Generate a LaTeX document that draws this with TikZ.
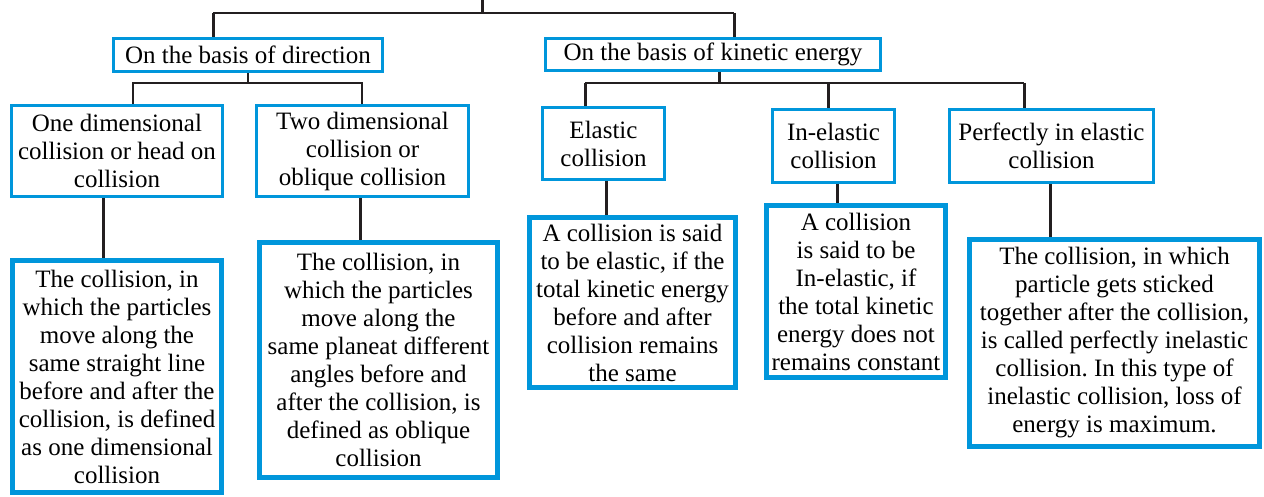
\documentclass[tikz,border=0pt]{standalone}
\usepackage{fontspec}
\setmainfont{Liberation Serif}
\definecolor{boxblue}{RGB}{0,150,219}
\definecolor{linedark}{RGB}{35,31,32}

\begin{document}
\begin{tikzpicture}[x=0.5pt,y=-0.5pt,
  box/.style={draw=boxblue, line width=1.3pt, align=center, inner sep=0pt,
    font=\fontsize{12.5}{14}\selectfont},
  descbox/.style={box, line width=2.5pt},
  conn/.style={draw=linedark, line width=1.5pt},
  thinconn/.style={draw=linedark, line width=1pt}]
  \useasboundingbox (0,0) rectangle (1264,497);

  % headings
  \node[box, minimum width=134.7pt, minimum height=16.7pt] (dir) at (248,55) {On the basis of direction};
  \node[box, minimum width=167.7pt, minimum height=16.2pt] (kin) at (713,54.5) {On the basis of kinetic energy};

  % kinds of collision
  \node[box, minimum width=105.7pt, minimum height=45.7pt] (one) at (117,151) {One dimensional\\collision or head on\\collision};
  \node[box, minimum width=106.2pt, minimum height=45.7pt] (two) at (362.5,151) {Two dimensional\\collision or\\oblique collision};
  \node[box, minimum width=61.2pt, minimum height=36.2pt] (ela) at (603.5,143.5) {Elastic\\collision};
  \node[box, minimum width=61.2pt, minimum height=36.7pt] (inel) at (833.5,146) {In-elastic\\collision};
  \node[box, minimum width=102.2pt, minimum height=36.7pt] (perf) at (1051.5,146) {Perfectly in elastic\\collision};

  % definitions
  \node[descbox, minimum width=104.5pt, minimum height=116pt] (oned) at (117,376.5) {The collision, in\\which the particles\\move along the\\same straight line\\before and after the\\collision, is defined\\as one dimensional\\collision};
  \node[descbox, minimum width=119pt, minimum height=117.5pt] (twod) at (378.5,360) {The collision, in\\which the particles\\move along the\\same planeat different\\angles before and\\after the collision, is\\defined as oblique\\collision};
  \node[descbox, minimum width=103pt, minimum height=85pt] (elad) at (632.5,302.5) {A collision is said\\to be elastic, if the\\total kinetic energy\\before and after\\collision remains\\the same};
  \node[descbox, minimum width=89.5pt, minimum height=86pt] (ineld) at (856,291.5) {A collision\\is said to be\\In-elastic, if\\the total kinetic\\energy does not\\remains constant};
  \node[descbox, minimum width=145pt, minimum height=103.5pt] (perfd) at (1114.5,343) {The collision, in which\\particle gets sticked\\together after the collision,\\is called perfectly inelastic\\collision.\ In this type of\\inelastic collision, loss of\\energy is maximum.};

  % tree lines
  \coordinate (root) at (482,0);
  \coordinate (rootbar) at (482,13);
  \coordinate (xdir) at (213,0);
  \coordinate (xkin) at (734,0);
  \draw[conn] (root) -- (rootbar);
  \draw[thinconn] (xdir |- rootbar) -- (xkin |- rootbar);
  \draw[conn] (xdir |- rootbar) -- (dir.north -| xdir);
  \draw[conn] (xkin |- rootbar) -- (kin.north -| xkin);

  \coordinate (dirbar) at (248,83);
  \coordinate (xone) at (133,0);
  \coordinate (xtwo) at (362,0);
  \draw[thinconn] (dir.south) -- (dirbar);
  \draw[thinconn] (one.north -| xone) |- (dirbar) -| (two.north -| xtwo);

  \coordinate (kinbar) at (719,83);
  \coordinate (xela) at (585,0);
  \coordinate (xinel) at (828,0);
  \coordinate (xperf) at (1024,0);
  \draw[conn] (kin.south -| kinbar) -- (kinbar);
  \draw[thinconn] (xela |- kinbar) -- (xperf |- kinbar);
  \draw[conn] (xela |- kinbar) -- (ela.north -| xela);
  \draw[conn] (xinel |- kinbar) -- (inel.north -| xinel);
  \draw[conn] (xperf |- kinbar) -- (perf.north -| xperf);

  \coordinate (xoned) at (103,0);
  \coordinate (xtwod) at (360,0);
  \coordinate (xelad) at (606,0);
  \coordinate (xineld) at (837,0);
  \coordinate (xperfd) at (1050,0);
  \draw[conn] (one.south -| xoned) -- (oned.north -| xoned);
  \draw[conn] (two.south -| xtwod) -- (twod.north -| xtwod);
  \draw[conn] (ela.south -| xelad) -- (elad.north -| xelad);
  \draw[conn] (inel.south -| xineld) -- (ineld.north -| xineld);
  \draw[conn] (perf.south -| xperfd) -- (perfd.north -| xperfd);
\end{tikzpicture}
\end{document}
